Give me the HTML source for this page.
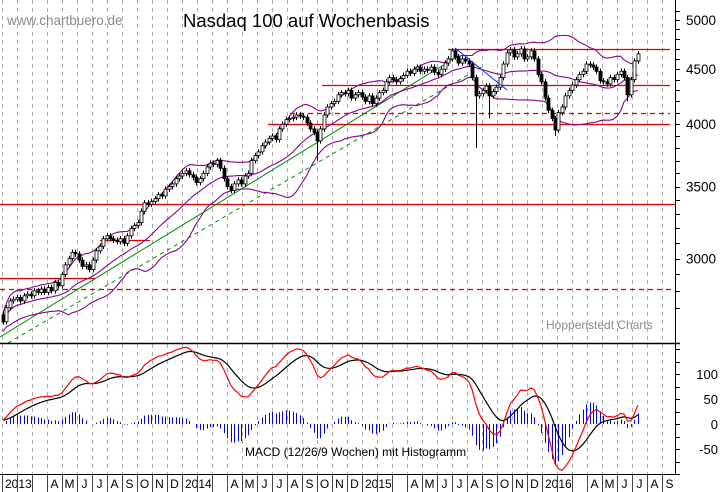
<!DOCTYPE html>
<html><head><meta charset="utf-8"><style>
html,body{margin:0;padding:0;background:#fff;}
svg{display:block;font-family:"Liberation Sans",sans-serif;}
</style></head><body>
<svg id="chart" width="723" height="492" viewBox="0 0 723 492">
<rect x="0" y="0" width="723" height="492" fill="#fff"/>
<g id="grid"></g>
<g id="annot"></g>
<g id="bands"></g>
<g id="candles"></g>
<g id="macd"></g>
<g id="axes"></g>
<text x="7" y="25" font-size="13.5" fill="#8a8a8a">www.chartbuero.de</text>
<text x="183" y="27" font-size="18.5" fill="#000">Nasdaq 100 auf Wochenbasis</text>
<text x="546" y="329" font-size="12" fill="#8a8a8a">Hoppenstedt Charts</text>
<text x="245" y="456" font-size="12" fill="#000">MACD (12/26/9 Wochen) mit Histogramm</text>
</svg>
<script>
const closes = [2620,2700,2740,2750,2760,2740,2770,2780,2770,2800,2790,2810,2790,2820,2800,2850,2830,2900,
2960,3000,3040,3030,2990,2950,2960,2930,2990,3050,3080,3130,3150,3130,3120,3110,3130,3100,3150,3200,3220,3240,
3320,3380,3370,3390,3410,3440,3430,3480,3500,3520,3560,3580,3600,3620,3590,3570,3530,3560,3600,3650,
3680,3670,3700,3640,3560,3500,3470,3520,3550,3520,3580,3600,3700,3740,3770,3820,3850,3880,3900,3870,
3960,4000,4040,4050,4060,4080,4070,4060,4010,3960,3930,3860,3960,4080,4150,4180,4200,4260,4280,4270,
4300,4230,4260,4280,4240,4200,4250,4180,4230,4280,4300,4380,4420,4400,4380,4410,4440,4480,4460,4500,
4520,4480,4500,4490,4520,4470,4450,4500,4560,4600,4680,4620,4560,4600,4580,4550,4420,4250,4270,4300,
4340,4250,4290,4330,4420,4550,4660,4690,4620,4650,4700,4600,4620,4680,4600,4450,4380,4230,4120,4050,
3950,4100,4150,4250,4300,4350,4400,4450,4480,4550,4540,4520,4480,4390,4380,4360,4420,4400,4450,4480,
4420,4260,4400,4580,4650];
const firstOpen = 2660;
const spikeWeeks = [91,137,141,160,181];
const spikeLows = [3700,3800,4050,3900,4200];
const priceTicks = [5000,4500,4000,3500,3000];
const macdTicks = [100,50,0,-50];
const hLines = [[3370,0,675,'solid'],[2875,0,95,'solid'],[2810,0,675,'dash'],[3120,100,150,'solid'],[4000,268,670,'solid'],[4100,290,670,'dash'],[4350,322,670,'solid'],[4700,448,670,'solid']];
const monthLabels = ['Y','','','A','M','J','J','A','S','O','N','D'];
const years = [2013,2014,2015,2016];

const NS='http://www.w3.org/2000/svg';
function mk(tag,attrs,parent,text){const e=document.createElementNS(NS,tag);for(const k in attrs)e.setAttribute(k,attrs[k]);if(text!==undefined)e.textContent=text;parent.appendChild(e);return e;}
const py=v=>20-467*Math.log(v/5000);
const wx=i=>3+i*3.45;
const my=v=>424-0.5*v;
const gGrid=document.getElementById('grid'),gAnn=document.getElementById('annot'),gB=document.getElementById('bands'),gC=document.getElementById('candles'),gM=document.getElementById('macd'),gA=document.getElementById('axes');

for(let m=0;m<46;m++){
  const x=2+15*m;
  if(x>675)break;
  const gl=mk('line',{x1:x+0.5,y1:0,x2:x+0.5,y2:474,stroke:'#aaa','stroke-dasharray':'4,4'},gGrid);
  
  
  const tk=mk('line',{x1:x+0.5,y1:474,x2:x+0.5,y2:492,stroke:'#444'},gA);
  
  
  const lab=monthLabels[m%12];
  if(lab==='Y'){
    const t=mk('text',{x:x+3,y:488,'font-size':'12',fill:'#000'},gA,String(years[Math.floor(m/12)]));
    
    
  } else if(lab){
    const t=mk('text',{x:x+7.5,y:488,'font-size':'12','text-anchor':'middle',fill:'#000'},gA,lab);
    
    
  }
}
hLines.forEach(h=>{
  const y=Math.round(py(h[0]))+0.5;
  const l=mk('line',{x1:h[1],y1:y,x2:h[2],y2:y,stroke:'#e00000','stroke-width':1.3},gAnn);
  if(h[3]==='dash')l.setAttribute('stroke-dasharray','5,4');
  
  
});
let tl=mk('line',{x1:0,y1:337,x2:455,y2:58,stroke:'#009000','stroke-width':1},gAnn);


tl=mk('line',{x1:8,y1:343,x2:485,y2:65,stroke:'#009000','stroke-width':1,'stroke-dasharray':'4,4'},gAnn);



const up=[],mid=[],lo=[];
closes.forEach((c,i)=>{
  const s=Math.max(0,i-19),w=closes.slice(s,i+1);
  const m=w.reduce((a,b)=>a+b,0)/w.length;
  const sd=Math.sqrt(w.reduce((a,b)=>a+(b-m)*(b-m),0)/w.length);
  const sdd=Math.max(sd,m*0.012);
  mid.push(m);up.push(m+1.7*sdd);lo.push(m-1.7*sdd);
});
[[up,'bollinger-upper'],[mid,'bollinger-middle'],[lo,'bollinger-lower']].forEach(([arr,n])=>{
  const p=mk('polyline',{points:arr.map((v,i)=>wx(i).toFixed(1)+','+Math.min(343,py(v)).toFixed(1)).join(' '),fill:'none',stroke:'#8b008b','stroke-width':1.1},gB);
  
  
});

closes.forEach((c,i)=>{
  const o=i===0?firstOpen:closes[i-1];
  const hi=Math.max(o,c)*1.006;
  let lw=Math.min(o,c)*0.994;
  const si=spikeWeeks.indexOf(i);
  if(si>=0)lw=Math.min(lw,spikeLows[si]);
  const x=Math.round(wx(i));
  const w=mk('line',{x1:x+0.5,y1:py(hi),x2:x+0.5,y2:Math.min(343,py(lw)),stroke:'#000'},gC);
  
  
  const yt=py(Math.max(o,c)),yb=py(Math.min(o,c));
  const r=mk('rect',{x:x-1,y:yt,width:3,height:Math.max(1,yb-yt),fill:c<o?'#000':'#fff',stroke:'#000','stroke-width':0.8},gC);
  
  
});
let bl=mk('line',{x1:455,y1:48,x2:507,y2:90,stroke:'#0030ff','stroke-width':1},gC);



function ema(arr,n){const k=2/(n+1);const out=[];arr.forEach((v,i)=>out.push(i===0?v:v*k+out[i-1]*(1-k)));return out;}
const e12=ema(closes,12),e26=ema(closes,26);
const macdV=closes.map((c,i)=>e12[i]-e26[i]+8);
const sig=ema(macdV,9);
closes.forEach((c,i)=>{
  const h=(macdV[i]-sig[i])*1.1;
  const x=Math.round(wx(i))+0.5;
  const b=mk('line',{x1:x,y1:my(0),x2:x,y2:my(h),stroke:'#0000ff','stroke-width':1},gM);
  
  
});
let pl=mk('polyline',{points:sig.map((v,i)=>wx(i).toFixed(1)+','+my(v).toFixed(1)).join(' '),fill:'none',stroke:'#000','stroke-width':1.2},gM);


pl=mk('polyline',{points:macdV.map((v,i)=>wx(i).toFixed(1)+','+my(v).toFixed(1)).join(' '),fill:'none',stroke:'#ff0000','stroke-width':1.2},gM);



let ax=mk('line',{x1:675.5,y1:0,x2:675.5,y2:474,stroke:'#000'},gA);


ax=mk('line',{x1:0,y1:343.5,x2:680,y2:343.5,stroke:'#000','stroke-width':1.5},gA);


ax=mk('line',{x1:0,y1:474.5,x2:680,y2:474.5,stroke:'#000'},gA);


for(let v=2700;v<=5100;v+=100){
  const y=Math.round(py(v))+0.5;if(y<2||y>342)continue;
  const t=mk('line',{x1:675,y1:y,x2:680,y2:y,stroke:'#000'},gA);
  
  
}
priceTicks.forEach(v=>{
  const t=mk('text',{x:716,y:py(v)+5,'font-size':'13.5','text-anchor':'end',fill:'#000'},gA,String(v));
  
  
});
for(let v=-100;v<=150;v+=25){
  const y=Math.round(my(v))+0.5;if(y<345||y>473)continue;
  const t=mk('line',{x1:675,y1:y,x2:680,y2:y,stroke:'#000'},gA);
  
  
}
macdTicks.forEach(v=>{
  const t=mk('text',{x:718,y:my(v)+5,'font-size':'13','text-anchor':'end',fill:'#000'},gA,String(v));
  
  
});
</script>
</body></html>
